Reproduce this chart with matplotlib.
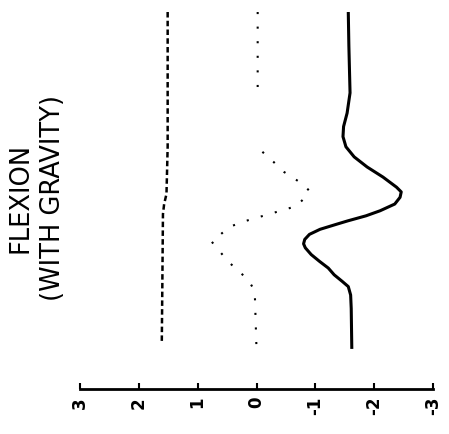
import numpy as np
import matplotlib
matplotlib.use("Agg")
import matplotlib.pyplot as plt

# time runs bottom (0) to top (100); values on the horizontal axis
solid_t = [100, 90, 76, 70, 66, 63, 60, 57, 54, 51, 48, 46.6, 45, 43, 41, 39.5, 38, 37,
           35.5, 34, 32.5, 31.2, 30, 28, 26, 24, 22, 20, 18.5, 16, 12, 0]
solid_v = [-1.56, -1.57, -1.59, -1.54, -1.48, -1.47, -1.52, -1.66, -1.88, -2.15, -2.38, -2.46,
           -2.44, -2.35, -2.1, -1.86, -1.55, -1.36, -1.08, -0.9, -0.82, -0.8, -0.83, -0.93,
           -1.07, -1.22, -1.32, -1.46, -1.56, -1.6, -1.61, -1.62]

dotted_t = [100, 76.3, np.nan, 58.5, 55.5, 52.5, 49.0, 46.9, 45.4, 42.4, 40.9, 37.7, 36.2,
            31.8, 26.1, 22.8, 20.8, 17.2, 0]
dotted_v = [-0.02, -0.02, np.nan, -0.1, -0.29, -0.47, -0.78, -0.9, -0.85, -0.68, -0.39, 0.24,
            0.46, 0.76, 0.49, 0.29, 0.15, 0.03, 0.0]

dashed_t = [100, 60, 46, 43, 40, 20, 1.5]
dashed_v = [1.51, 1.51, 1.53, 1.57, 1.59, 1.6, 1.61]

ticks = [3, 2, 1, 0, -1, -2, -3]
tick_labels = ["3", "2", "1", "0", "-1", "-2", "-3"]

fig = plt.figure(figsize=(4.49, 4.35), dpi=100)
ax = fig.add_axes([80 / 449, 45 / 435, 353 / 449, 378 / 435])

ax.plot(solid_v, solid_t, color="black", lw=2.2, solid_capstyle="butt")
ax.plot(dotted_v, dotted_t, color="black", lw=1.5, linestyle=(0, (1, 6)))
ax.plot(dashed_v, dashed_t, color="black", lw=1.8, linestyle=(0, (2.2, 1.3)))

ax.set_xlim(3, -3)
ax.set_ylim(-11.9, 100.3)
ax.set_xticks(ticks)
ax.set_xticklabels(tick_labels, rotation=90, fontsize=12, fontweight="bold",
                   family="DejaVu Sans")
ax.tick_params(axis="x", direction="in", length=4, width=1.5, pad=5)
ax.set_yticks([])
for side in ["top", "left", "right"]:
    ax.spines[side].set_visible(False)
ax.spines["bottom"].set_linewidth(2)

fig.text(37 / 449, 1 - 198 / 435, "FLEXION\n(WITH GRAVITY)", rotation=90,
         ha="center", va="center", multialignment="center", fontsize=18.5,
         family="DejaVu Sans", linespacing=1.35)

fig.savefig("out.png", dpi=100)
